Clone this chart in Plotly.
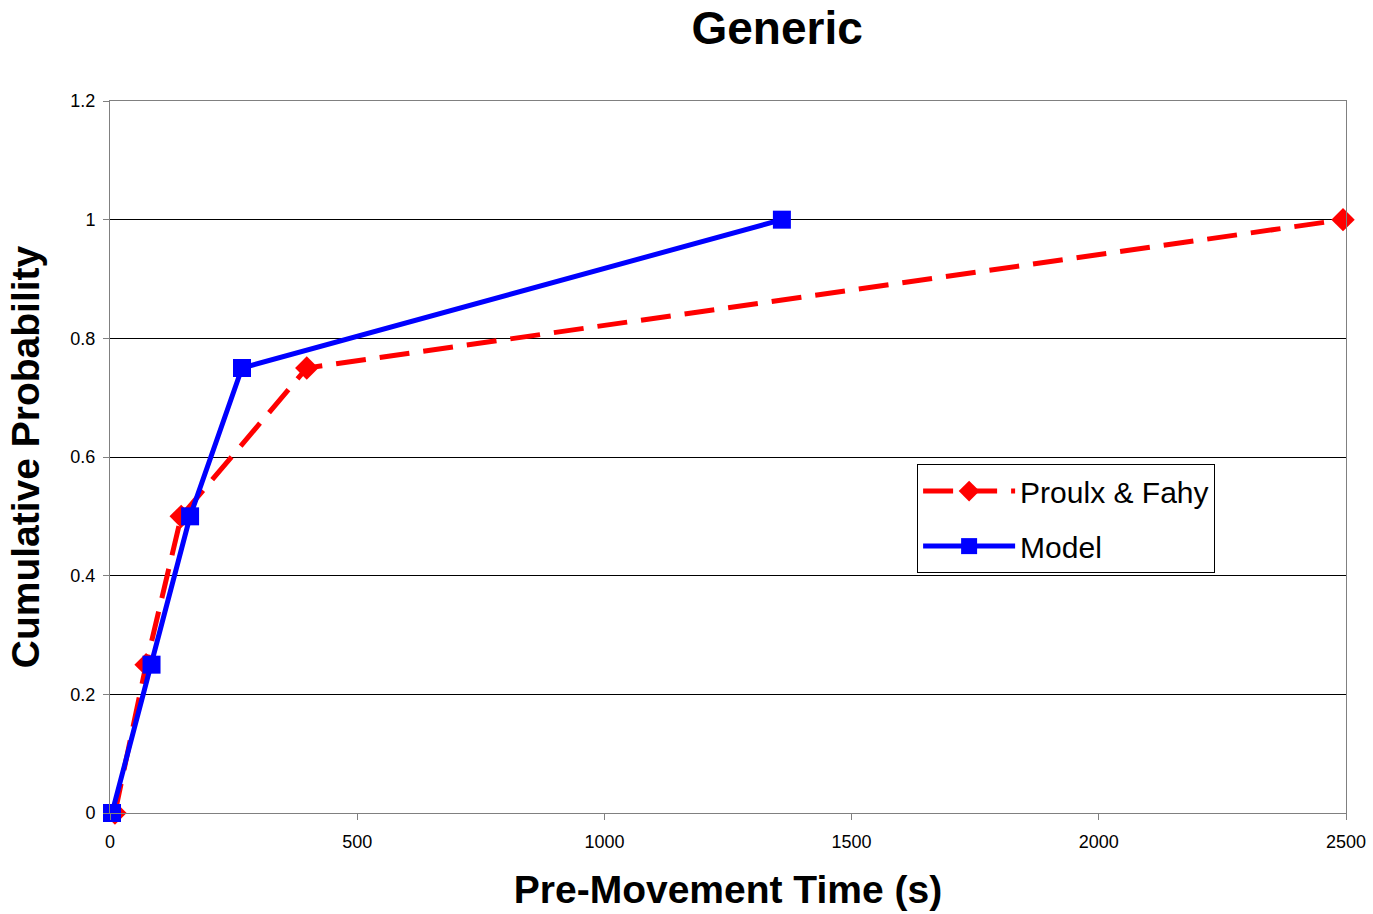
import plotly.graph_objects as go

proulx_x = [10, 73, 144, 398, 2494]
proulx_y = [0, 0.25, 0.5, 0.75, 1.0]
model_x = [4, 84, 162, 267, 1359]
model_y = [0, 0.25, 0.5, 0.75, 1.0]

x_ticks = [0, 500, 1000, 1500, 2000, 2500]
y_ticks = [0, 0.2, 0.4, 0.6, 0.8, 1.0, 1.2]
y_labels = ["0", "0.2", "0.4", "0.6", "0.8", "1", "1.2"]

fig = go.Figure()
fig.add_trace(go.Scatter(
    x=proulx_x, y=proulx_y, mode="lines+markers", name="Proulx & Fahy",
    legendgroup="a",
    line=dict(color="#FF0000", width=5, dash="30px,14px"),
    marker=dict(symbol="diamond", size=18, color="#FF0000"),
    cliponaxis=False))
fig.add_trace(go.Scatter(
    x=model_x, y=model_y, mode="lines+markers", name="Model",
    legendgroup="b",
    line=dict(color="#0000FF", width=5),
    marker=dict(symbol="square", size=18, color="#0000FF"),
    cliponaxis=False))

fig.update_layout(
    width=1373, height=914,
    margin=dict(l=110, r=27, t=101, b=101, autoexpand=False),
    paper_bgcolor="white", plot_bgcolor="white",
    font=dict(family="Liberation Sans, Arial, sans-serif", color="black"),
    title=dict(text="<b>Generic</b>", x=0.566, xanchor="center", y=0.97, yanchor="middle",
               font=dict(size=46, color="black")),
    showlegend=True,
    legend=dict(x=0.653, xanchor="left", y=0.49, yanchor="top",
                bordercolor="black", borderwidth=1, bgcolor="white",
                font=dict(size=30, color="black"), tracegroupgap=13,
                itemwidth=92, entrywidth=220),
    xaxis=dict(range=[0, 2500], tickvals=x_ticks, ticktext=[str(v) for v in x_ticks],
               showgrid=False, zeroline=False, showline=True, linecolor="#808080", linewidth=1,
               mirror=True, ticks="outside", ticklen=6, tickcolor="#808080", automargin=False,
               tickfont=dict(size=18), ticklabelstandoff=6,
               title=dict(text="<b>Pre-Movement Time (s)</b>", font=dict(size=39), standoff=25)),
    yaxis=dict(range=[0, 1.2], tickvals=y_ticks, ticktext=y_labels,
               showgrid=True, gridcolor="#000000", gridwidth=1, zeroline=False,
               showline=True, linecolor="#808080", linewidth=1, mirror=True,
               ticks="outside", ticklen=6, tickcolor="#808080", automargin=False,
               tickfont=dict(size=18), ticklabelstandoff=4,
               title=dict(text="<b>Cumulative Probability</b>", font=dict(size=39), standoff=18)),
)

fig.write_html("out.html")
